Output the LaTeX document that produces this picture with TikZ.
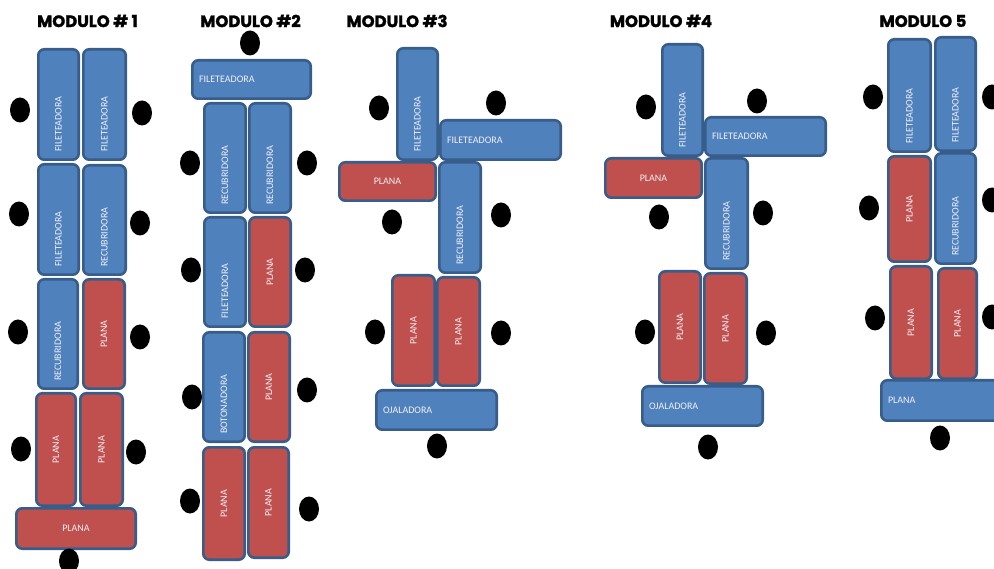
\documentclass[tikz,border=0pt]{standalone}
\usepackage{fontspec}
\setmainfont{Carlito}
\newfontfamily\headfont{Poppins}[BoldFeatures={FakeBold=1.6}]
\usetikzlibrary{shapes.geometric}

\definecolor{machblue}{HTML}{4F81BD}
\definecolor{machred}{HTML}{C0504D}
\definecolor{machedge}{HTML}{385D8A}
\definecolor{labelink}{HTML}{F2F0F8}

\tikzset{
  machine/.style={draw=machedge, line width=2.6pt, rounded corners=6pt,
    inner sep=0pt, outer sep=0pt},
  bluemach/.style={machine, fill=machblue},
  redmach/.style={machine, fill=machred},
  lbl/.style={text=labelink, font=\fontsize{10}{11}\selectfont, inner sep=0pt},
  operator/.style={ellipse, fill=black, draw=none, minimum width=20pt,
    minimum height=25pt, inner sep=0pt},
  modtitle/.style={font=\headfont\bfseries\fontsize{16.5}{18}\selectfont, inner sep=0pt}
}

% machine box from its outer corners (x1,y1)-(x2,y2), in pixel units
\newcommand\machbox[6]{%
  \node[#6, minimum width={#4-#2-2.6}, minimum height={#5-#3-2.6}]
    (#1) at ({(#2+#4)/2},{(#3+#5)/2}) {};}
% label styles: upright-rotated from the bottom, rotated and centred,
% horizontal from the left, horizontal and centred
\newcommand\lblup[2]{\node[lbl, rotate=90, anchor=west] (#1-t) at ([yshift=7.5pt]#1.south) {#2};}
\newcommand\lblrot[2]{\node[lbl, rotate=90] (#1-t) at (#1.center) {#2};}
\newcommand\lblleft[2]{\node[lbl, anchor=west] (#1-t) at ([xshift=6.5pt]#1.west) {#2};}
\newcommand\lblmid[2]{\node[lbl] (#1-t) at (#1.center) {#2};}

\begin{document}
\begin{tikzpicture}[x=1pt, y=-1pt]
\useasboundingbox (0,0) rectangle (994,569);
\clip (0,0) rectangle (994,569);

% ---------- titles ----------
\node[modtitle] (t1) at (87.5,21) {MODULO \# 1};
\node[modtitle] (t2) at (250.5,21) {MODULO \#2};
\node[modtitle] (t3) at (397,21) {MODULO \#3};
\node[modtitle] (t4) at (661,21) {MODULO \#4};
\node[modtitle] (t5) at (923,21) {MODULO 5};

% ---------- module 1 ----------
\machbox{m1a}{37}{48}{80}{161}{bluemach}   \lblup{m1a}{FILETEADORA}
\machbox{m1b}{82}{48}{127}{161}{bluemach}  \lblup{m1b}{FILETEADORA}
\machbox{m1c}{37}{163}{80}{276}{bluemach}  \lblup{m1c}{FILETEADORA}
\machbox{m1d}{82}{164}{127}{276}{bluemach} \lblup{m1d}{RECUBRIDORA}
\machbox{m1e}{37}{278}{79}{390}{bluemach}  \lblup{m1e}{RECUBRIDORA}
\machbox{m1f}{82}{278}{126}{390}{redmach}  \lblrot{m1f}{PLANA}
\machbox{m1g}{35}{392}{77}{507}{redmach}   \lblrot{m1g}{PLANA}
\machbox{m1h}{79}{392}{124}{507}{redmach}  \lblrot{m1h}{PLANA}
\machbox{m1i}{15}{507}{137}{550}{redmach}  \lblmid{m1i}{PLANA}

\node[operator] (o1a) at (20,110) {};
\node[operator] (o1b) at (142,113) {};
\node[operator] (o1c) at (19,214) {};
\node[operator] (o1d) at (140,223) {};
\node[operator] (o1e) at (18,332) {};
\node[operator] (o1f) at (140,337) {};
\node[operator] (o1g) at (21,449) {};
\node[operator] (o1h) at (136,452) {};
\node[operator] (o1i) at (69,561) {};

% ---------- module 2 ----------
\machbox{m2a}{191}{59}{312}{100}{bluemach}  \lblleft{m2a}{FILETEADORA}
\machbox{m2b}{203}{102}{247}{214}{bluemach} \lblup{m2b}{RECUBRIDORA}
\machbox{m2c}{248}{102}{292}{214}{bluemach} \lblup{m2c}{RECUBRIDORA}
\machbox{m2d}{203}{216}{247}{328}{bluemach} \lblup{m2d}{FILETEADORA}
\machbox{m2e}{248}{216}{292}{328}{redmach}  \lblrot{m2e}{PLANA}
\machbox{m2f}{202}{331}{246}{443}{bluemach} \lblup{m2f}{BOTONADORA}
\machbox{m2g}{247}{331}{291}{443}{redmach}  \lblrot{m2g}{PLANA}
\machbox{m2h}{202}{446}{246}{561}{redmach}  \lblrot{m2h}{PLANA}
\machbox{m2i}{247}{446}{290}{559}{redmach}  \lblrot{m2i}{PLANA}

\node[operator] (o2a) at (250,43) {};
\node[operator] (o2b) at (190,163) {};
\node[operator] (o2c) at (307,163) {};
\node[operator] (o2d) at (191,270) {};
\node[operator] (o2e) at (305,270) {};
\node[operator] (o2f) at (192,397) {};
\node[operator] (o2g) at (307,390) {};
\node[operator] (o2h) at (190,501) {};
\node[operator] (o2i) at (309,509) {};

% ---------- module 3 ----------
\machbox{m3a}{396}{47}{439}{161}{bluemach}  \lblup{m3a}{FILETEADORA}
\machbox{m3b}{439}{119}{562}{161}{bluemach} \lblleft{m3b}{FILETEADORA}
\machbox{m3c}{338}{161}{437}{202}{redmach}  \lblmid{m3c}{PLANA}
\machbox{m3d}{438}{161}{482}{274}{bluemach} \lblup{m3d}{RECUBRIDORA}
\machbox{m3e}{391}{274}{436}{387}{redmach}  \lblrot{m3e}{PLANA}
\machbox{m3f}{436}{276}{481}{387}{redmach}  \lblrot{m3f}{PLANA}
\machbox{m3g}{375}{389}{498}{431}{bluemach} \lblleft{m3g}{OJALADORA}

\node[operator] (o3a) at (379,108) {};
\node[operator] (o3b) at (496,103) {};
\node[operator] (o3c) at (392,222) {};
\node[operator] (o3d) at (501,215) {};
\node[operator] (o3e) at (375,332) {};
\node[operator] (o3f) at (501,333) {};
\node[operator] (o3g) at (437,446) {};

% ---------- module 4 ----------
\machbox{m4a}{661}{43}{704}{157}{bluemach}  \lblup{m4a}{FILETEADORA}
\machbox{m4b}{704}{116}{827}{157}{bluemach} \lblleft{m4b}{FILETEADORA}
\machbox{m4c}{604}{157}{703}{199}{redmach}  \lblmid{m4c}{PLANA}
\machbox{m4d}{704}{157}{749}{270}{bluemach} \lblup{m4d}{RECUBRIDORA}
\machbox{m4e}{658}{270}{702}{384}{redmach}  \lblrot{m4e}{PLANA}
\machbox{m4f}{703}{272}{748}{385}{redmach}  \lblrot{m4f}{PLANA}
\machbox{m4g}{641}{385}{764}{427}{bluemach} \lblleft{m4g}{OJALADORA}

\node[operator] (o4a) at (646,107) {};
\node[operator] (o4b) at (757,101) {};
\node[operator] (o4c) at (659,217) {};
\node[operator] (o4d) at (763,213) {};
\node[operator] (o4e) at (645,332) {};
\node[operator] (o4f) at (766,333) {};
\node[operator] (o4g) at (708,447) {};

% ---------- module 5 ----------
\machbox{m5a}{887}{38}{932}{153}{bluemach}  \lblup{m5a}{FILETEADORA}
\machbox{m5b}{934}{36}{977}{152}{bluemach}  \lblup{m5b}{FILETEADORA}
\machbox{m5c}{887}{155}{932}{263}{redmach}  \lblrot{m5c}{PLANA}
\machbox{m5d}{934}{152}{977}{265}{bluemach} \lblup{m5d}{RECUBRIDORA}
\machbox{m5e}{889}{265}{933}{380}{redmach}  \lblrot{m5e}{PLANA}
\machbox{m5f}{937}{267}{978}{380}{redmach}  \lblrot{m5f}{PLANA}
\machbox{m5g}{880}{379}{1020}{422}{bluemach} \lblleft{m5g}{PLANA}

\node[operator] (o5a) at (873,97) {};
\node[operator] (o5b) at (992,97) {};
\node[operator] (o5c) at (869,208) {};
\node[operator] (o5d) at (992,200) {};
\node[operator] (o5e) at (875,318) {};
\node[operator] (o5f) at (992,317) {};
\node[operator] (o5g) at (940,438) {};
\end{tikzpicture}
\end{document}
